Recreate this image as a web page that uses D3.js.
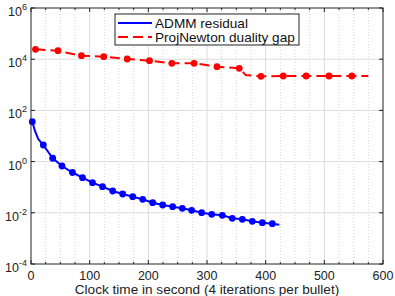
<!DOCTYPE html>
<html>
<head>
<meta charset="utf-8">
<script src="https://cdn.jsdelivr.net/npm/d3@7"></script>
<style>
  body { margin: 0; background: #fff; }
  svg { display: block; font-family: "Liberation Sans", Arial, Helvetica, sans-serif; }
</style>
</head>
<body>
<script>
// ADMM residual: time (s) and value; bullet = marker drawn (every 4 iterations)
const admmTime = [2.2, 6.8, 12.4, 21.0, 37.0, 52.8, 70.7, 87.8, 104.8, 121.9, 139.3, 156.3, 173.4, 190.4,
    207.4, 224.5, 241.5, 257.9, 273.9, 290.9, 308.0, 326.1, 343.1, 360.2, 377.2, 394.3, 411.3, 423.2]
const admmValue = [36.2, 15.7, 7.6, 4.45, 1.35, 0.673, 0.375, 0.235, 0.150, 0.105, 0.0711, 0.0542, 0.0425, 0.0337,
    0.0248, 0.0202, 0.0173, 0.0150, 0.01253, 0.01009, 0.00873, 0.00798, 0.00610, 0.00557, 0.00465, 0.00410, 0.00375, 0.00343]
const admmBullet = [1, 0, 0, 1, 1, 1, 1, 1, 1, 1, 1, 1, 1, 1,
    1, 1, 1, 1, 1, 1, 1, 1, 1, 1, 1, 1, 1, 0]

// ProjNewton duality gap
const gapTime = [7.7, 46, 61, 86, 124, 164, 202, 240, 278, 317, 355, 366, 392, 430, 469, 508, 547, 575]
const gapValue = [24400, 21500, 17900, 13700, 12500, 10200, 8740, 6920, 6920, 5090, 4410, 2400, 2150, 2210, 2210, 2210, 2210, 2210]
const gapBullet = [1, 1, 0, 1, 1, 1, 1, 1, 1, 1, 1, 0, 1, 1, 1, 1, 1, 0]

const xTicks = [0, 100, 200, 300, 400, 500, 600]
const yTicks = [1e-4, 1e-2, 1e0, 1e2, 1e4, 1e6]
const yExponents = ["-4", "-2", "0", "2", "4", "6"]
const seriesNames = ["ADMM residual", "ProjNewton duality gap"]
const xTitle = "Clock time in second (4 iterations per bullet)"

;(() => {
    const W = 395, H = 296
    const pl = 31, pr = 383, pt = 8, pb = 264

    const svg = d3.select("body").append("svg").attr("width", W).attr("height", H)

    const x = d3.scaleLinear().domain([0, 600]).range([pl, pr])
    const y = d3.scaleLog().domain([1e-4, 1e6]).range([pb, pt])

    // minor vertical grid (dotted)
    const minor = d3.range(25, 600, 25).filter(v => v % 100 !== 0)
    svg.append("g").selectAll("line").data(minor).join("line")
        .attr("x1", d => x(d)).attr("x2", d => x(d))
        .attr("y1", pt).attr("y2", pb)
        .attr("stroke", "#c8c8c8").attr("stroke-width", 0.8).attr("stroke-dasharray", "1,2")

    // major grid
    svg.append("g").selectAll("line").data(xTicks.slice(1, -1)).join("line")
        .attr("x1", d => x(d)).attr("x2", d => x(d))
        .attr("y1", pt).attr("y2", pb)
        .attr("stroke", "#dcdcdc").attr("stroke-width", 1)
    svg.append("g").selectAll("line").data(yTicks.slice(1, -1)).join("line")
        .attr("y1", d => y(d)).attr("y2", d => y(d))
        .attr("x1", pl).attr("x2", pr)
        .attr("stroke", "#dcdcdc").attr("stroke-width", 1)

    // ticks (inward)
    const tk = svg.append("g").attr("stroke", "#222").attr("stroke-width", 1)
    xTicks.forEach(v => {
        tk.append("line").attr("x1", x(v)).attr("x2", x(v)).attr("y1", pb).attr("y2", pb - 4)
        tk.append("line").attr("x1", x(v)).attr("x2", x(v)).attr("y1", pt).attr("y2", pt + 4)
    })
    minor.forEach(v => {
        tk.append("line").attr("x1", x(v)).attr("x2", x(v)).attr("y1", pb).attr("y2", pb - 2)
        tk.append("line").attr("x1", x(v)).attr("x2", x(v)).attr("y1", pt).attr("y2", pt + 2)
    })
    yTicks.forEach(v => {
        tk.append("line").attr("y1", y(v)).attr("y2", y(v)).attr("x1", pl).attr("x2", pl + 4)
        tk.append("line").attr("y1", y(v)).attr("y2", y(v)).attr("x1", pr).attr("x2", pr - 4)
    })

    // lines
    const line = d3.line().x(d => x(d[0])).y(d => y(d[1]))
    const admm = admmTime.map((t, i) => [t, admmValue[i], admmBullet[i]])
    const gap = gapTime.map((t, i) => [t, gapValue[i], gapBullet[i]])

    svg.append("path").datum(admm).attr("d", line)
        .attr("fill", "none").attr("stroke", "#0000ff").attr("stroke-width", 2)
    svg.append("g").selectAll("circle").data(admm.filter(d => d[2])).join("circle")
        .attr("cx", d => x(d[0])).attr("cy", d => y(d[1])).attr("r", 3.4).attr("fill", "#0000ff")

    svg.append("path").datum(gap).attr("d", line)
        .attr("fill", "none").attr("stroke", "#ff0000").attr("stroke-width", 2)
        .attr("stroke-dasharray", "10,5")
    svg.append("g").selectAll("circle").data(gap.filter(d => d[2])).join("circle")
        .attr("cx", d => x(d[0])).attr("cy", d => y(d[1])).attr("r", 3.4).attr("fill", "#ff0000")

    // axes box
    svg.append("rect").attr("x", pl).attr("y", pt).attr("width", pr - pl).attr("height", pb - pt)
        .attr("fill", "none").attr("stroke", "#222").attr("stroke-width", 1)

    // tick labels
    svg.append("g").selectAll("text").data(xTicks).join("text")
        .attr("x", d => x(d)).attr("y", pb + 15.5)
        .attr("text-anchor", "middle").attr("font-size", 12.5).attr("fill", "#222")
        .text(d => d)

    const yl = svg.append("g").selectAll("text").data(yTicks).join("text")
        .attr("x", pl - 4).attr("y", d => y(d) + 8)
        .attr("text-anchor", "end").attr("font-size", 12.5).attr("fill", "#222")
    yl.append("tspan").text("10")
    yl.append("tspan").attr("dy", -6).attr("font-size", 9).text((d, i) => yExponents[i])

    svg.append("text").attr("x", (pl + pr) / 2).attr("y", 293.5)
        .attr("text-anchor", "middle").attr("font-size", 13.6).attr("fill", "#222")
        .text(xTitle)

    // legend
    const lg = svg.append("g")
    lg.append("rect").attr("x", 115).attr("y", 14).attr("width", 184).attr("height", 31)
        .attr("fill", "#fff").attr("stroke", "#222").attr("stroke-width", 1)
    const legendColors = ["#0000ff", "#ff0000"]
    const legendDash = [null, "10,5"]
    seriesNames.forEach((name, i) => {
        const yy = 23 + i * 14
        lg.append("line").attr("x1", 118).attr("x2", 152).attr("y1", yy).attr("y2", yy)
            .attr("stroke", legendColors[i]).attr("stroke-width", 2).attr("stroke-dasharray", legendDash[i])
        lg.append("text").attr("x", 155).attr("y", yy + 5).attr("font-size", 13.6).attr("fill", "#111").text(name)
    })
})()
</script>
</body>
</html>
